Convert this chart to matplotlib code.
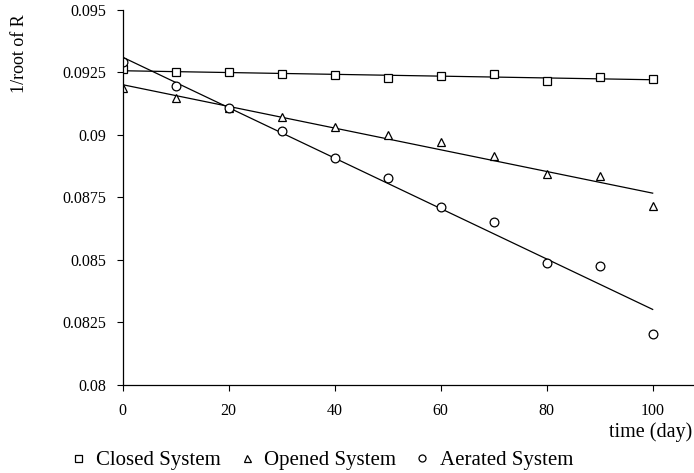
import numpy as np
import matplotlib.pyplot as plt

days = [0, 10, 20, 30, 40, 50, 60, 70, 80, 90, 100]
closed = [0.09261, 0.09251, 0.09251, 0.09242, 0.09237, 0.09225,
          0.09235, 0.09241, 0.09215, 0.09230, 0.09221]
opened = [0.09186, 0.09147, 0.09105, 0.09069, 0.09031, 0.08997,
          0.08969, 0.08913, 0.08841, 0.08835, 0.08715]
aerated = [0.09289, 0.09194, 0.09105, 0.09013, 0.08906, 0.08826,
           0.08711, 0.08650, 0.08485, 0.08474, 0.08203]
yticks = [0.08, 0.0825, 0.085, 0.0875, 0.09, 0.0925, 0.095]
ytick_labels = ["0.08", "0.0825", "0.085", "0.0875", "0.09", "0.0925", "0.095"]
xticks = [0, 20, 40, 60, 80, 100]

plt.rcParams["font.family"] = ["Liberation Serif", "DejaVu Serif"]

fig = plt.figure(figsize=(6.94, 4.73), dpi=100)
ax = fig.add_axes([0.1768, 0.1867, 0.8232, 0.7932])

series = [
    (closed, "s", "Closed System"),
    (opened, "^", "Opened System"),
    (aerated, "o", "Aerated System"),
]
x = np.array(days)
handles = []
for vals, mk, name in series:
    # linear trendline through each series
    k, b = np.polyfit(x, vals, 1)
    ax.plot([x[0], x[-1]], [k * x[0] + b, k * x[-1] + b], color="black", lw=0.9)
    h, = ax.plot(x, vals, linestyle="none", marker=mk, ms=6.3, mfc="white",
                 mec="black", mew=0.9, label=name)
    handles.append(h)

ax.set_xlim(0, 107.8)
ax.set_ylim(0.08, 0.095)
ax.set_xticks(xticks)
ax.set_yticks(yticks)
ax.set_yticklabels(ytick_labels)
ax.tick_params(direction="out", length=4, width=0.8, labelsize=11.5)
ax.tick_params(axis="y", pad=8)
ax.tick_params(axis="x", pad=9.5)
for s in ["top", "right"]:
    ax.spines[s].set_visible(False)
ax.spines["left"].set_linewidth(0.9)
ax.spines["bottom"].set_linewidth(0.9)

fig.text(0.997, 1 - 432 / 473, "time (day)", ha="right", va="center", fontsize=14.5)
fig.text(0.028, 0.887, "1/root of R", rotation=90, ha="center", va="center",
         fontsize=13)

fig.legend(handles=handles, loc="center left",
           bbox_to_anchor=(73 / 694, 1 - 460 / 473),
           ncol=3, frameon=False, fontsize=15, handlelength=0.5,
           handletextpad=0.6, columnspacing=1.0, markerscale=0.8,
           borderpad=0, borderaxespad=0)

fig.savefig("out.png", dpi=100)
